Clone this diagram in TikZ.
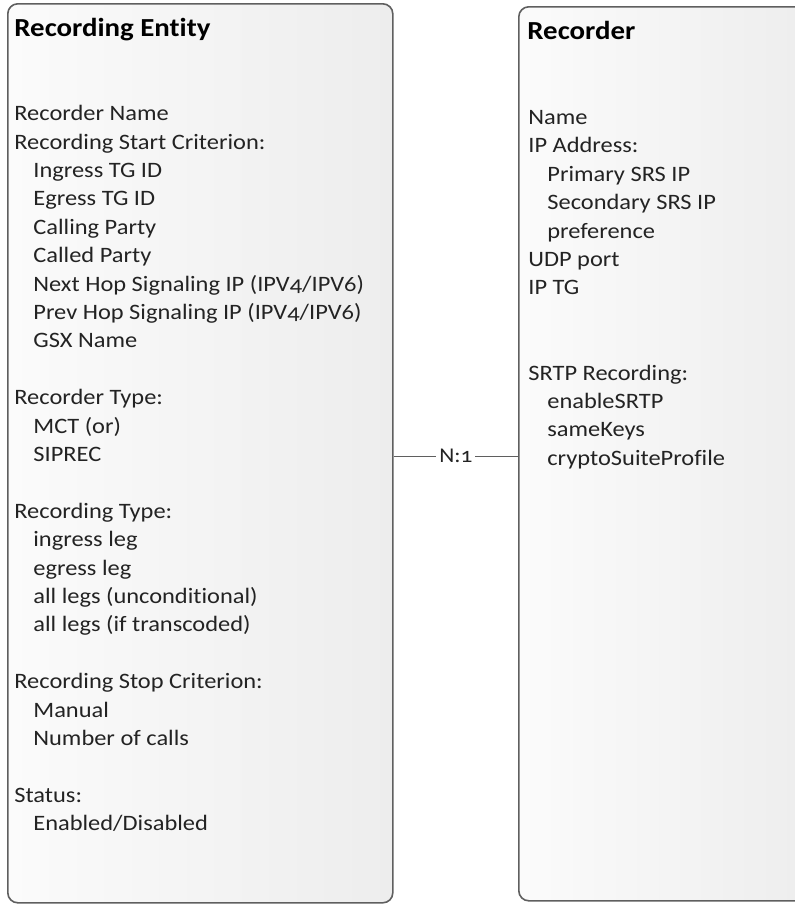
\documentclass[tikz,border=0pt]{standalone}
\usepackage{fontspec}
\setmainfont{Carlito}[Numbers=OldStyle, FakeStretch=1.11, Ligatures=NoCommon]
\usepackage{tikz}
\usetikzlibrary{positioning}
\definecolor{myborder}{RGB}{95,95,95}
\definecolor{myink}{RGB}{35,35,35}
\definecolor{mylight}{RGB}{251,251,251}
\definecolor{mygrey}{RGB}{237,237,237}
\tikzset{
  entity/.style={rectangle, draw=myborder, left color=mylight, right color=mygrey,
    rounded corners=5pt, line width=0.8pt, inner sep=0pt, anchor=north west},
  title/.style={anchor=base west, inner sep=0pt,
    font=\fontsize{13}{16}\selectfont\bfseries, text=black},
  attrs/.style={anchor=north west, inner sep=0pt, align=left,
    font=\fontsize{11}{14.2}\selectfont, text=myink},
  card/.style={fill=white, inner sep=1.5pt, font=\fontsize{10.5}{12}\selectfont, text=myink},
  link/.style={line width=0.6pt, color=myborder}
}
\newcommand{\ind}{\hspace*{9.5pt}}
\begin{document}
\begin{tikzpicture}[x=0.5pt, y=-0.5pt]
  \useasboundingbox (0,0) rectangle (794,905);
  % the two entities
  \node[entity, minimum width=192.5pt, minimum height=449.5pt] (recentity) at (7,3) {};
  \node[entity, minimum width=150pt, minimum height=447pt] (recorder) at (518,6) {};

  \node[title] (entitytitle) at (14,36) {Recording Entity};
  \node[attrs] (entityattrs) at (14,105) {Recorder Name\\
    Recording Start Criterion:\\
    \ind Ingress TG ID\\
    \ind Egress TG ID\\
    \ind Calling Party\\
    \ind Called Party\\
    \ind Next Hop Signaling IP (IPV4/IPV6)\\
    \ind Prev Hop Signaling IP (IPV4/IPV6)\\
    \ind GSX Name\\
    \\
    Recorder Type:\\
    \ind MCT (or)\\
    \ind SIPREC\\
    \\
    Recording Type:\\
    \ind ingress leg\\
    \ind egress leg\\
    \ind all legs (unconditional)\\
    \ind all legs (if transcoded)\\
    \\
    Recording Stop Criterion:\\
    \ind Manual\\
    \ind Number of calls\\
    \\
    Status:\\
    \ind Enabled/Disabled};

  \node[title] (recordertitle) at (527,39) {Recorder};
  \node[attrs] (recorderattrs) at (528,110) {Name\\
    IP Address:\\
    \ind Primary SRS IP\\
    \ind Secondary SRS IP\\
    \ind preference\\
    UDP port\\
    IP TG\\
    \\
    \\
    SRTP Recording:\\
    \ind enableSRTP\\
    \ind sameKeys\\
    \ind cryptoSuiteProfile};

  % relation
  \draw[link] ([yshift=-1.5pt]recentity.east) -- node[card] (cardinality) {N:1}
    ([yshift=-1.5pt]recentity.east -| recorder.west);
\end{tikzpicture}
\end{document}
